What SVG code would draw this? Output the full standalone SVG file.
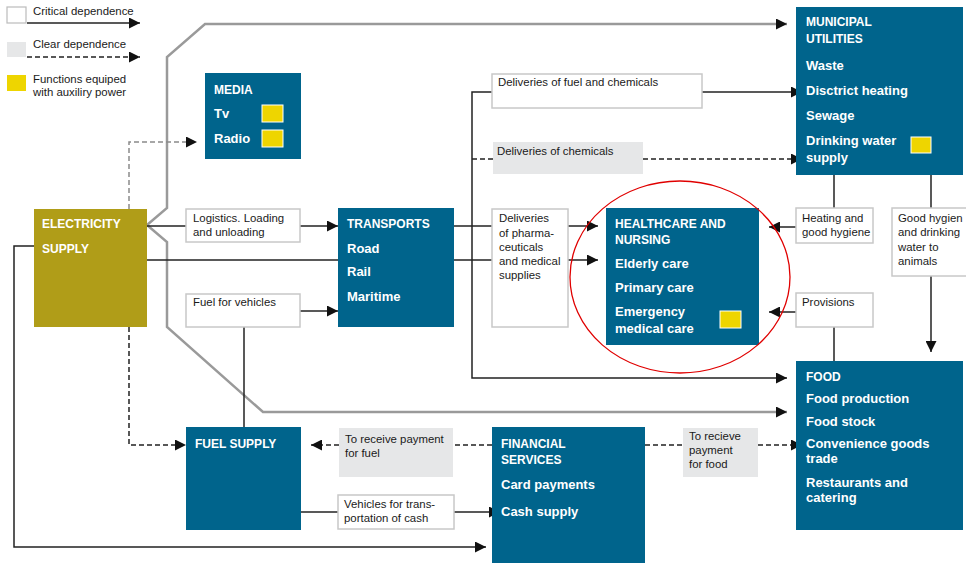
<svg xmlns="http://www.w3.org/2000/svg" width="966" height="563" viewBox="0 0 966 563">
<style>
.bg{fill:#ffffff}
.node{fill:#00648c}
.elec{fill:#b09d18}
.lbl{fill:#ffffff;stroke:#c8c8c8;stroke-width:1.5}
.glbl{fill:#e6e7e8}
.yel{fill:#eed500;stroke:#ffffff;stroke-width:1}
.h{font-family:"Liberation Sans",Arial,sans-serif;font-size:12px;font-weight:bold;fill:#ffffff}
.w{font-family:"Liberation Sans",Arial,sans-serif;font-size:13px;font-weight:bold;fill:#ffffff}
.t{font-family:"Liberation Sans",Arial,sans-serif;font-size:11.4px;fill:#1a1a1a}
.c{fill:none;stroke:#222222;stroke-width:1.5}
.d{fill:none;stroke:#222222;stroke-width:1.5;stroke-dasharray:5,3}
.gd{fill:none;stroke:#8a8a8a;stroke-width:1.5;stroke-dasharray:5,3}
.g{fill:none;stroke:#9a9a9a;stroke-width:2.5}
</style>
<defs>
<marker id="a" markerUnits="userSpaceOnUse" markerWidth="11" markerHeight="11" refX="11" refY="5.5" orient="auto">
<path d="M0,0 L11,5.5 L0,11 z" fill="#111111"/>
</marker>
</defs>
<rect class="bg" x="0" y="0" width="966" height="563"/>

<g id="legend">
<rect x="7" y="7" width="19" height="16" fill="#ffffff" stroke="#bbbbbb" stroke-width="1.2"/>
<line class="c" x1="27" y1="23" x2="140" y2="23" marker-end="url(#a)"/>
<text class="t" x="33" y="15">Critical dependence</text>
<rect x="7" y="42" width="19" height="15" fill="#e6e7e8"/>
<line class="d" x1="27" y1="57" x2="140" y2="57" marker-end="url(#a)"/>
<text class="t" x="33" y="48">Clear dependence</text>
<rect x="7" y="75" width="19" height="16" fill="#eed500"/>
<text class="t" x="33" y="83">Functions equiped</text>
<text class="t" x="33" y="96">with auxiliry power</text>
</g>

<g id="connectors">
<path class="g" d="M147,225 L167,208 L167,57 L205,24 L787,24" marker-end="url(#a)"/>
<path class="g" d="M147,225 L167,242 L167,327 L263,412 L787,412" marker-end="url(#a)"/>
<line class="c" x1="147" y1="226" x2="186" y2="226"/>
<line class="c" x1="300" y1="226" x2="338" y2="226" marker-end="url(#a)"/>
<line class="c" x1="147" y1="260" x2="338" y2="260"/>
<line class="c" x1="300" y1="311" x2="338" y2="311" marker-end="url(#a)"/>
<line class="c" x1="244" y1="327" x2="244" y2="427"/>
<path class="gd" d="M129,209 L129,142 L197,142" marker-end="url(#a)"/>
<path class="d" d="M129,327 L129,445 L186,445" marker-end="url(#a)"/>
<path class="c" d="M34,246 L14,246 L14,547 L486,547" marker-end="url(#a)"/>
<line class="c" x1="301" y1="512" x2="338" y2="512"/>
<line class="c" x1="454" y1="512" x2="500" y2="512" marker-end="url(#a)"/>
<line class="d" x1="492" y1="445" x2="453" y2="445"/>
<line class="d" x1="339" y1="445" x2="311" y2="445" marker-end="url(#a)"/>
<line class="d" x1="645" y1="445" x2="683" y2="445"/>
<line class="d" x1="758" y1="445" x2="802" y2="445" marker-end="url(#a)"/>
<line class="c" x1="454" y1="226" x2="492" y2="226"/>
<line class="c" x1="454" y1="260" x2="492" y2="260"/>
<line class="c" x1="568" y1="226" x2="598" y2="226" marker-end="url(#a)"/>
<line class="c" x1="568" y1="260" x2="598" y2="260" marker-end="url(#a)"/>
<path class="c" d="M492,92 L472,92 L472,378 L787,378" marker-end="url(#a)"/>
<line class="c" x1="702" y1="92" x2="802" y2="92" marker-end="url(#a)"/>
<line class="d" x1="493" y1="159" x2="472" y2="159"/>
<line class="d" x1="643" y1="159" x2="802" y2="159" marker-end="url(#a)"/>
<line class="c" x1="834" y1="175" x2="834" y2="208"/>
<line class="c" x1="796" y1="227" x2="769" y2="227" marker-end="url(#a)"/>
<line class="c" x1="931" y1="175" x2="931" y2="208"/>
<line class="c" x1="931" y1="276" x2="931" y2="352" marker-end="url(#a)"/>
<line class="c" x1="796" y1="312" x2="769" y2="312" marker-end="url(#a)"/>
<line class="c" x1="834" y1="361" x2="834" y2="327"/>
</g>

<g id="media">
<rect class="node" x="205" y="73" width="96" height="86"/>
<text class="h" x="214" y="94">MEDIA</text>
<text class="w" x="214" y="118">Tv</text>
<rect class="yel" x="262" y="105" width="21" height="17"/>
<text class="w" x="214" y="143">Radio</text>
<rect class="yel" x="262" y="130" width="21" height="17"/>
</g>

<g id="electricity">
<rect class="elec" x="34" y="209" width="113" height="118"/>
<text class="h" x="42" y="228">ELECTRICITY</text>
<text class="h" x="42" y="253">SUPPLY</text>
</g>

<g id="transports">
<rect class="node" x="338" y="208" width="116" height="119"/>
<text class="h" x="347" y="228">TRANSPORTS</text>
<text class="w" x="347" y="253">Road</text>
<text class="w" x="347" y="276">Rail</text>
<text class="w" x="347" y="301">Maritime</text>
</g>

<g id="fuel-supply">
<rect class="node" x="186" y="427" width="115" height="103"/>
<text class="h" x="195" y="448">FUEL SUPPLY</text>
</g>

<g id="financial">
<rect class="node" x="492" y="427" width="153" height="140"/>
<text class="h" x="501" y="448">FINANCIAL</text>
<text class="h" x="501" y="464">SERVICES</text>
<text class="w" x="501" y="489">Card payments</text>
<text class="w" x="501" y="516">Cash supply</text>
</g>

<g id="healthcare">
<rect class="node" x="606" y="208" width="153" height="137"/>
<text class="h" x="615" y="228">HEALTHCARE AND</text>
<text class="h" x="615" y="244">NURSING</text>
<text class="w" x="615" y="268">Elderly care</text>
<text class="w" x="615" y="292">Primary care</text>
<text class="w" x="615" y="316">Emergency</text>
<text class="w" x="615" y="333">medical care</text>
<rect class="yel" x="720" y="311" width="21" height="17"/>
</g>

<g id="municipal">
<rect class="node" x="796" y="7" width="167" height="168"/>
<text class="h" x="806" y="26">MUNICIPAL</text>
<text class="h" x="806" y="43">UTILITIES</text>
<text class="w" x="806" y="70">Waste</text>
<text class="w" x="806" y="95">Disctrict heating</text>
<text class="w" x="806" y="120">Sewage</text>
<text class="w" x="806" y="145">Drinking water</text>
<text class="w" x="806" y="162">supply</text>
<rect class="yel" x="911" y="137" width="20" height="16"/>
</g>

<g id="food">
<rect class="node" x="796" y="361" width="167" height="169"/>
<text class="h" x="806" y="381">FOOD</text>
<text class="w" x="806" y="403">Food production</text>
<text class="w" x="806" y="426">Food stock</text>
<text class="w" x="806" y="448">Convenience goods</text>
<text class="w" x="806" y="463">trade</text>
<text class="w" x="806" y="487">Restaurants and</text>
<text class="w" x="806" y="502">catering</text>
</g>

<g id="label-logistics">
<rect class="lbl" x="186" y="209" width="114" height="33"/>
<text class="t" x="193" y="222">Logistics. Loading</text>
<text class="t" x="193" y="236">and unloading</text>
</g>
<g id="label-fuel-vehicles">
<rect class="lbl" x="186" y="294" width="114" height="33"/>
<text class="t" x="193" y="306">Fuel for vehicles</text>
</g>
<g id="label-fuel-chemicals">
<rect class="lbl" x="492" y="74" width="210" height="34"/>
<text class="t" x="498" y="86">Deliveries of fuel and chemicals</text>
</g>
<g id="label-chemicals">
<rect class="glbl" x="493" y="142" width="150" height="32"/>
<text class="t" x="497" y="155">Deliveries of chemicals</text>
</g>
<g id="label-pharma">
<rect class="lbl" x="492" y="209" width="76" height="118"/>
<text class="t" x="499" y="222">Deliveries</text>
<text class="t" x="499" y="237">of pharma-</text>
<text class="t" x="499" y="251">ceuticals</text>
<text class="t" x="499" y="265">and medical</text>
<text class="t" x="499" y="279">supplies</text>
</g>
<g id="label-heating">
<rect class="lbl" x="796" y="208" width="77" height="35"/>
<text class="t" x="802" y="222">Heating and</text>
<text class="t" x="802" y="236">good hygiene</text>
</g>
<g id="label-hygien">
<rect class="lbl" x="892" y="208" width="78" height="68"/>
<text class="t" x="898" y="222">Good hygien</text>
<text class="t" x="898" y="236">and drinking</text>
<text class="t" x="898" y="251">water to</text>
<text class="t" x="898" y="265">animals</text>
</g>
<g id="label-provisions">
<rect class="lbl" x="796" y="293" width="77" height="34"/>
<text class="t" x="802" y="306">Provisions</text>
</g>
<g id="label-pay-fuel">
<rect class="glbl" x="339" y="428" width="114" height="49"/>
<text class="t" x="345" y="443">To receive payment</text>
<text class="t" x="345" y="457">for fuel</text>
</g>
<g id="label-vehicles">
<rect class="lbl" x="338" y="495" width="116" height="34"/>
<text class="t" x="344" y="508">Vehicles for trans-</text>
<text class="t" x="344" y="522">portation of cash</text>
</g>
<g id="label-pay-food">
<rect class="glbl" x="683" y="428" width="75" height="49"/>
<text class="t" x="689" y="440">To recieve</text>
<text class="t" x="689" y="454">payment</text>
<text class="t" x="689" y="468">for food</text>
</g>

<ellipse cx="680" cy="277" rx="110" ry="96" fill="none" stroke="#e00000" stroke-width="1.3"/>
</svg>
